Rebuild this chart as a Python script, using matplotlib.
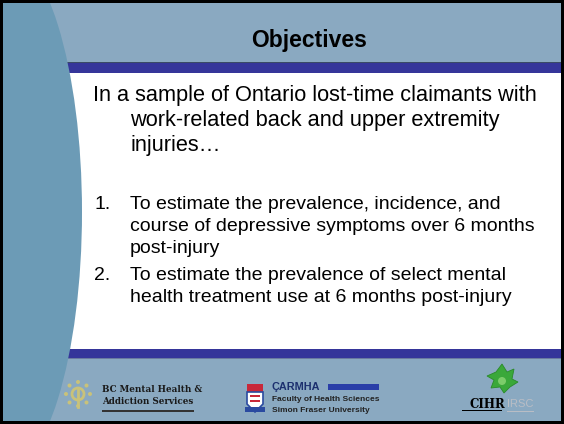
import matplotlib
matplotlib.use("Agg")
import matplotlib.pyplot as plt
from matplotlib.patches import Rectangle, Ellipse, Circle, Polygon
import numpy as np

# ---- content ----
title = "Objectives"
intro_lines = ["In a sample of Ontario lost-time claimants with",
               "work-related back and upper extremity",
               "injuries\u2026"]
item_numbers = ["1.", "2."]
item_lines = [["To estimate the prevalence, incidence, and",
               "course of depressive symptoms over 6 months",
               "post-injury"],
              ["To estimate the prevalence of select mental",
               "health treatment use at 6 months post-injury"]]
logo1_lines = ["BC Mental Health &", "Addiction Services"]
logo2_lines = ["Faculty of Health Sciences", "Simon Fraser University"]

W, H = 564, 424
BAND = "#8aa9c1"
SIDE = "#6c9bb6"
BAR = "#35359a"

fig = plt.figure(figsize=(W / 100, H / 100), dpi=100)
ax = fig.add_axes([0, 0, 1, 1])
ax.set_xlim(0, W)
ax.set_ylim(H, 0)
ax.axis("off")
FONT = "Liberation Sans"

# background
ax.add_patch(Rectangle((0, 0), W, H, facecolor="black", zorder=0))
ax.add_patch(Rectangle((3, 3), W - 6, H - 6, facecolor=BAND, zorder=1))
ax.add_patch(Rectangle((3, 73), W - 6, 276, facecolor="white", zorder=1))
ax.add_patch(Rectangle((3, 63), W - 6, 10, facecolor=BAR, zorder=2))
ax.add_patch(Rectangle((3, 62), W - 6, 1.2, facecolor="#3a4a66", zorder=2))
ax.add_patch(Rectangle((3, 349), W - 6, 9, facecolor=BAR, zorder=2))
ax.add_patch(Rectangle((3, 357.5), W - 6, 1, facecolor="#6a7aa0", zorder=2))
side = Ellipse((0, 212), 164, 528, facecolor=SIDE, edgecolor="none", zorder=3)
ax.add_patch(side)
side.set_clip_path(Rectangle((3, 3), W - 6, H - 6, transform=ax.transData))

# title
ax.text(309, 47, title, fontsize=16.5, fontweight="bold", family=FONT,
        ha="center", va="baseline", color="black", zorder=5)

# intro
intro_x = [93, 130, 130]
intro_y = [101, 126, 151]
for x, y, s in zip(intro_x, intro_y, intro_lines):
    ax.text(x, y, s, fontsize=15.7, family=FONT, ha="left", va="baseline",
            color="black", zorder=5)

# numbered items
item_y = [[209, 231, 253], [280, 302]]
for num, lines, ys in zip(item_numbers, item_lines, item_y):
    ax.text(94, ys[0], num, fontsize=14.0, family=FONT, ha="left",
            va="baseline", color="black", zorder=5)
    for y, s in zip(ys, lines):
        ax.text(130, y, s, fontsize=14.0, family=FONT, ha="left",
                va="baseline", color="black", zorder=5)

# ---- logo 1: BC Mental Health & Addiction Services ----
sun_c = (78, 394)
ycol = "#c9c27a"
for ang in np.linspace(0, 2 * np.pi, 9)[:-1]:
    ax.add_patch(Circle((sun_c[0] + 12 * np.cos(ang), sun_c[1] + 12 * np.sin(ang)),
                        2.0, facecolor=ycol, edgecolor="none", zorder=5))
ax.add_patch(Circle(sun_c, 6, facecolor="none", edgecolor=ycol, lw=2.0, zorder=5))
ax.plot([sun_c[0], sun_c[0]], [sun_c[1] - 5, sun_c[1] + 13], color=ycol, lw=2.0, zorder=5)
for y, s in zip([392, 404], logo1_lines):
    ax.text(102, y, s, fontsize=6.3, fontweight="bold", family="DejaVu Serif",
            ha="left", va="baseline", color="#1a1a1a", zorder=5)
ax.add_patch(Rectangle((102, 410), 92, 1.6, facecolor="#333333", zorder=5))

# ---- logo 2: CARMHA ----
ax.add_patch(Rectangle((247, 384), 16, 8, facecolor="#c8283a", zorder=5))
ax.add_patch(Polygon([(247, 392), (263, 392), (263, 404), (255, 412), (247, 404)],
                     closed=True, facecolor="white", edgecolor="#2a4aa0", lw=1.2, zorder=5))
ax.add_patch(Rectangle((250, 395), 10, 2, facecolor="#c8283a", zorder=6))
ax.add_patch(Rectangle((250, 400), 10, 2, facecolor="#c8283a", zorder=6))
ax.add_patch(Rectangle((245, 407), 20, 5, facecolor="#2a4aa0", zorder=6))
ax.text(272, 390, "\u00c7ARMHA", fontsize=7.8, fontweight="bold", family=FONT,
        ha="left", va="baseline", color="#1c2f6e", zorder=5)
ax.add_patch(Rectangle((328, 384), 51, 6, facecolor="#2a3ea8", zorder=5))
for y, s in zip([401, 412], logo2_lines):
    ax.text(272, y, s, fontsize=6.0, fontweight="bold", family=FONT,
            ha="left", va="baseline", color="#222222", zorder=5)

# ---- logo 3: CIHR / IRSC ----
leaf = [(502, 364), (507, 372), (514, 369), (512, 379), (518, 382), (510, 387),
        (504, 393), (500, 387), (491, 388), (494, 380), (487, 376), (496, 372)]
ax.add_patch(Polygon(leaf, closed=True, facecolor="#3aa83a", edgecolor="#2a8a2a",
                     lw=0.6, zorder=5))
ax.add_patch(Circle((502, 381), 4, facecolor="#7ccc6a", edgecolor="none", zorder=6))
ax.text(487, 408, "CIHR", fontsize=8.5, fontweight="bold", family="DejaVu Serif",
        ha="center", va="baseline", color="black", zorder=5)
ax.text(520, 407, "IRSC", fontsize=8.0, family=FONT, ha="center", va="baseline",
        color="#b9bdc5", zorder=6)
ax.add_patch(Rectangle((462, 410), 40, 1.4, facecolor="black", zorder=5))
ax.add_patch(Rectangle((507, 411), 27, 1.4, facecolor="#b9bdc5", zorder=5))

fig.savefig("out.png", dpi=100)
